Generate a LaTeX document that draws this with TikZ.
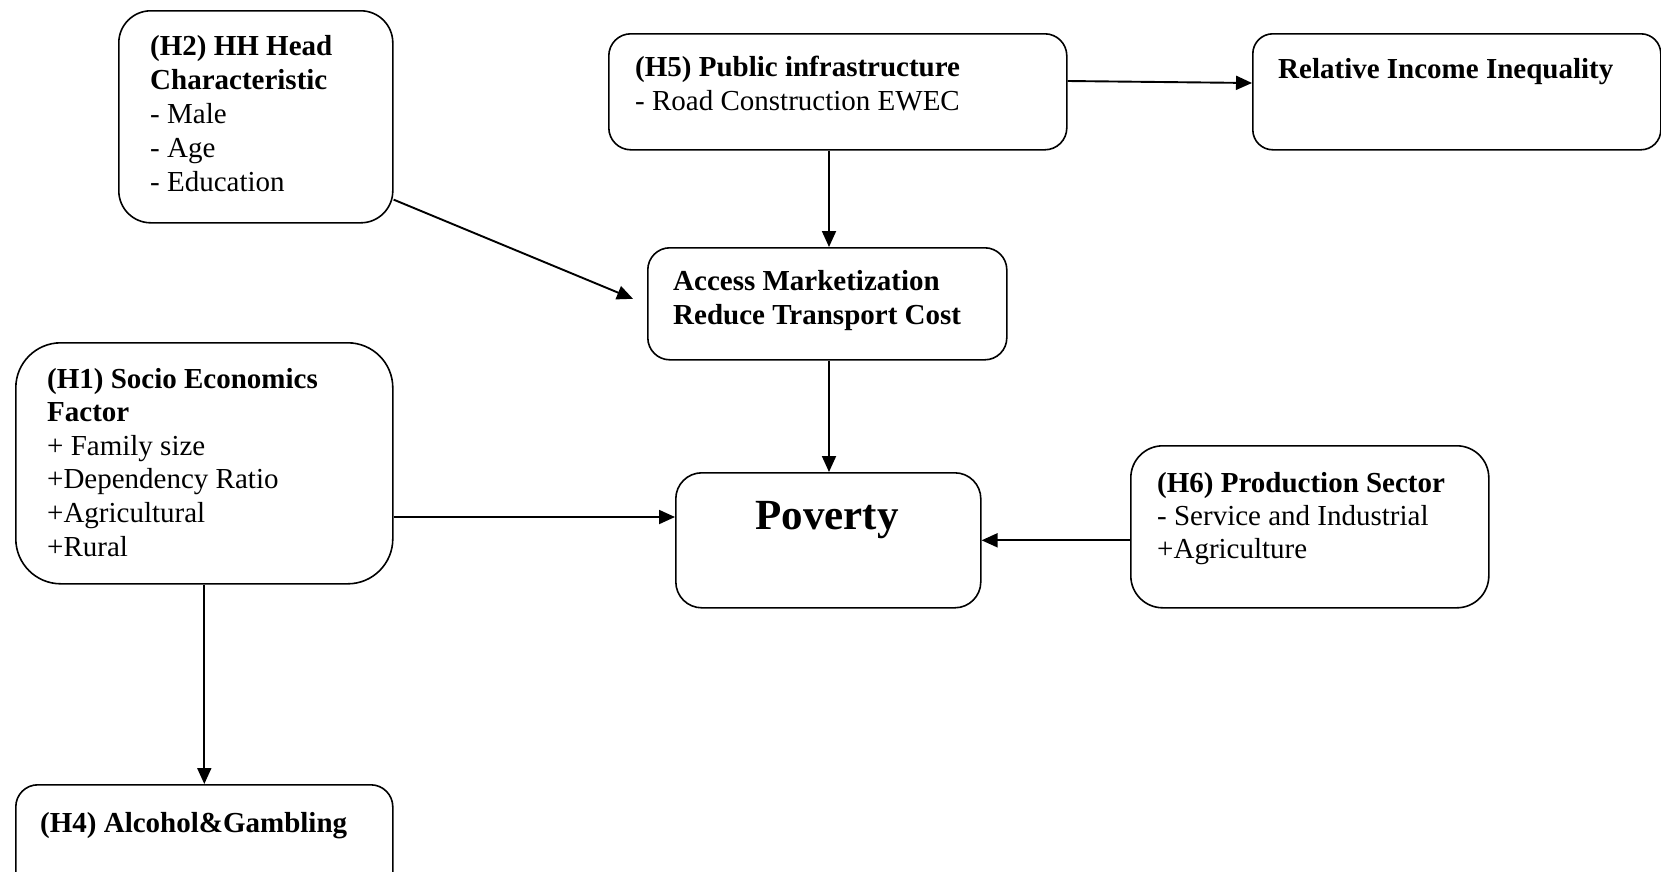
\documentclass[tikz,border=0pt]{standalone}
\usepackage{fontspec}
\setmainfont{Liberation Serif}
\usetikzlibrary{arrows.meta,calc}
\tikzset{
  box/.style={draw=black, line width=1.6pt, rounded corners=#1, anchor=north west, inner sep=0pt},
  box/.default=22pt,
  txt/.style={anchor=base west, align=left, inner sep=0pt, font=\fontsize{29}{34}\selectfont},
  arr/.style={line width=1.9pt, -{Triangle[length=16pt,width=14pt]}},
  ln/.style={line width=1.9pt}
}
\begin{document}
\begin{tikzpicture}[x=1pt,y=-1pt]
\useasboundingbox (0,0) rectangle (1661,871);
% boxes
\node[box=32pt, minimum width=274pt, minimum height=212pt] (h2) at (118,10) {};
\node[box=22pt, minimum width=458pt, minimum height=116pt] (h5) at (608,33) {};
\node[box=20pt, minimum width=408pt, minimum height=116pt] (rii) at (1252,33) {};
\node[box=22pt, minimum width=359pt, minimum height=112pt] (acc) at (647,247) {};
\node[box=45pt, minimum width=377pt, minimum height=241pt] (h1) at (15,342) {};
\node[box=26pt, minimum width=305pt, minimum height=135pt] (pov) at (675,472) {};
\node[box=32pt, minimum width=358pt, minimum height=162pt] (h6) at (1130,445) {};
\node[box=22pt, minimum width=377pt, minimum height=110pt] (h4) at (15,784) {};
% texts (anchor = baseline of the last line)
\node[txt] (t2) at ($(h2.north west)+(32,181)$) {\textbf{(H2) HH Head}\\\textbf{Characteristic}\\- Male\\- Age\\- Education};
\node[txt] (t5) at ($(h5.north west)+(27,77)$) {\textbf{(H5) Public infrastructure}\\- Road Construction EWEC};
\node[txt] (tr) at ($(rii.north west)+(26,45)$) {\textbf{Relative Income Inequality}};
\node[txt] (ta) at ($(acc.north west)+(26,77)$) {\textbf{Access Marketization}\\\textbf{Reduce Transport Cost}};
\node[txt, font=\fontsize{29}{33.6}\selectfont] (t1) at ($(h1.north west)+(32,214)$) {\textbf{(H1) Socio Economics}\\\textbf{Factor}\\+ Family size\\+Dependency Ratio\\+Agricultural\\+Rural};
\node[txt, font=\fontsize{29}{33}\selectfont] (t6) at ($(h6.north west)+(27,113)$) {\textbf{(H6) Production Sector}\\- Service and Industrial\\+Agriculture};
\node[txt] (t4) at ($(h4.north west)+(25,48)$) {\textbf{(H4) Alcohol\&Gambling}};
\node[anchor=base, inner sep=0pt, font=\fontsize{43}{48}\selectfont\bfseries] (tp) at (827,529) {Poverty};
% connectors
\coordinate (vx) at (829,0);
\draw[arr] ($(h5.north east)+(0,48)$) -- ($(rii.north west)+(0,50)$);
\draw[arr] (h5.south -| vx) -- (acc.north -| vx);
\draw[arr] (acc.south -| vx) -- (pov.north -| vx);
\coordinate (pl) at ($(pov.north west)+(0,45)$);
\draw[arr] (h1.east |- pl) -- (pl);
\draw[arr] (h6.west |- pov.east) -- (pov.east);
\draw[arr] (h2.-31) -- ($(acc.west)+(-14,-5)$);
\draw[arr] (h1.south) -- (h4.north);
\end{tikzpicture}
\end{document}
